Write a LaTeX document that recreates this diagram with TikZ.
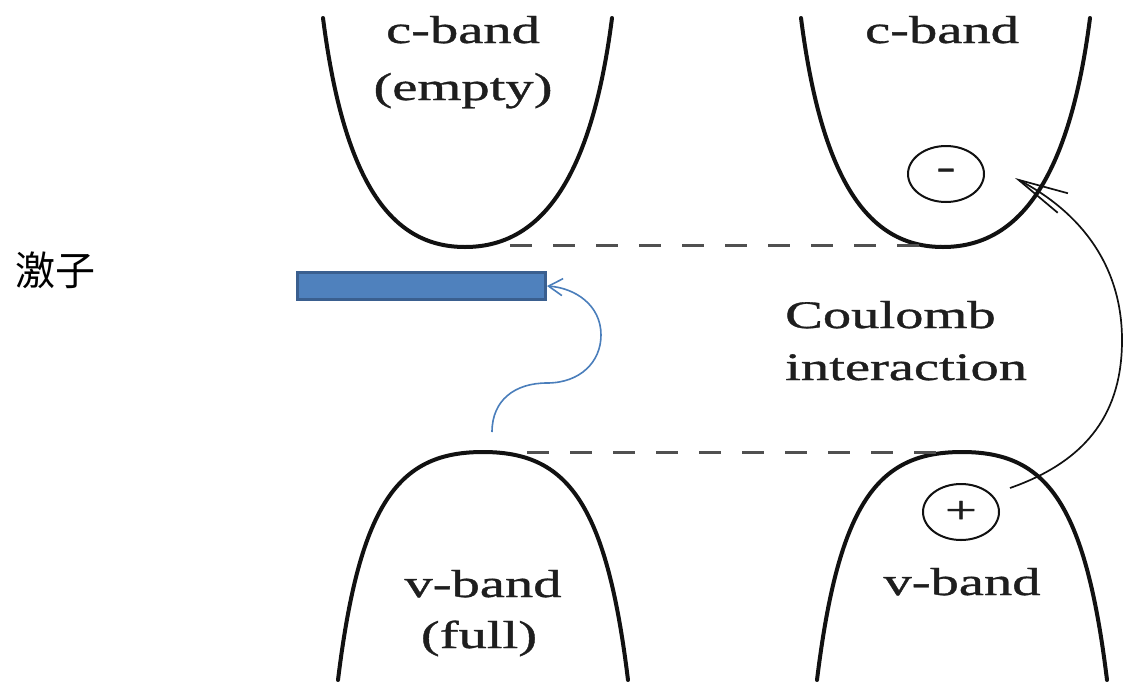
\documentclass[tikz,border=0pt]{standalone}
\usepackage{fontspec}
\usepackage{graphicx}
\setmainfont{Liberation Serif}
\newfontfamily\lblfont[FakeBold=0.8]{Liberation Serif}
\newfontfamily\cjk{Noto Sans CJK SC}
\usetikzlibrary{arrows.meta,shapes.geometric}
\definecolor{bandblack}{HTML}{111111}
\definecolor{dashgray}{HTML}{505050}
\definecolor{excfill}{HTML}{4F81BD}
\definecolor{excdraw}{HTML}{3A5F8F}
\definecolor{excline}{HTML}{4A7EBB}
\definecolor{txt}{HTML}{1E1E1E}
\newcommand{\wide}[1]{\scalebox{1.45}[1]{#1}}
\begin{document}
\begin{tikzpicture}[x=1pt,y=-1pt,
  band/.style={line width=4pt, draw=bandblack, line cap=round},
  level/.style={line width=3pt, draw=dashgray, dash pattern=on 22pt off 21pt},
  lbl/.style={anchor=base, inner sep=0pt, text=txt, font=\lblfont\fontsize{39}{46}\selectfont},
  carrier/.style={ellipse, draw=bandblack, line width=2pt, minimum width=76pt, minimum height=56pt, inner sep=0pt, text=txt, font=\lblfont\fontsize{39}{46}\selectfont},
  exciton/.style={rectangle, draw=excdraw, fill=excfill, line width=3pt, minimum width=248pt, minimum height=27pt, inner sep=0pt},
  bluearrow/.style={draw=excline, line width=1.6pt, -{Straight Barb[length=14pt,width=17pt]}},
  coulombarrow/.style={draw=bandblack, line width=1.7pt, -{Straight Barb[length=50pt,width=22pt]}}
  ]
\useasboundingbox (0,0) rectangle (1124,683);

% bands
\draw[band] (323,18) .. controls (345,190) and (395,247) .. (465,247) .. controls (535,247) and (590,190) .. (612,18);
\draw[band] (801,18) .. controls (823,190) and (873,247) .. (943,247) .. controls (1013,247) and (1068,190) .. (1090,18);
\draw[band] (338,680) .. controls (360,500) and (400,452) .. (483,452) .. controls (566,452) and (606,500) .. (628,680);
\draw[band] (817,680) .. controls (839,500) and (879,452) .. (962,452) .. controls (1045,452) and (1085,500) .. (1107,680);

% band edge levels
\draw[level] (510,245) -- (940,245);
\draw[level] (527,452) -- (945,452);

% labels
\node[lbl] (cb1) at (463,43) {\wide{c-band}};
\node[lbl] (cb1b) at (463,100) {\wide{(empty)}};
\node[lbl] (cb2) at (942,43) {\wide{c-band}};
\node[lbl] (vb1) at (483,597) {\wide{v-band}};
\node[lbl] (vb1b) at (479,648) {\wide{(full)}};
\node[lbl] (vb2) at (962,595) {\wide{v-band}};
\node[lbl, anchor=base west] (cl1) at (785,328) {\wide{Coulomb}};
\node[lbl, anchor=base west] (cl2) at (785,380) {\wide{interaction}};

% carriers
\node[carrier] (minus) at (946,174) {\wide{-}};
\node[carrier] (plus) at (961,512) {\wide{+}};

% exciton
\node[font=\cjk\fontsize{40}{40}\selectfont, inner sep=0pt] (exlabel) at (55,270) {激子};
\node[exciton] (exc) at (421.5,286) {};

% connectors
\coordinate (vtop) at (492,432);
\coordinate (pfrom) at (1010,488);
\coordinate (mto) at (1015,178);
\draw[bluearrow] (vtop) .. controls (492,400) and (515,383) .. (547,383) .. controls (580,383) and (601,362) .. (601,335) .. controls (601,305) and (575,288) .. (exc.east);
\draw[coulombarrow] (pfrom) .. controls (1090,460) and (1122,410) .. (1122,340) .. controls (1122,265) and (1080,212) .. (mto);
\end{tikzpicture}
\end{document}
